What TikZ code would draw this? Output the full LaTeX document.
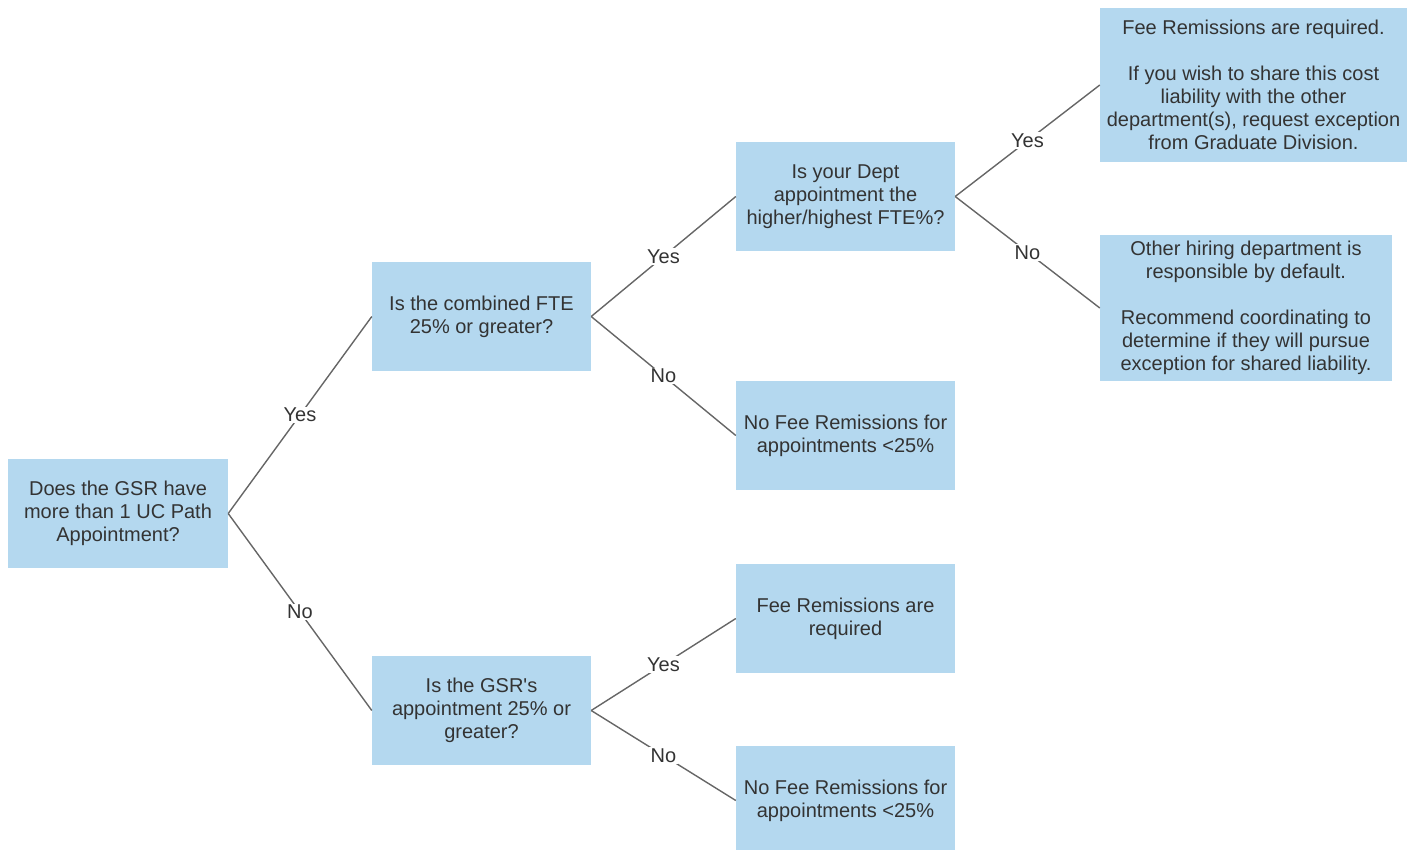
\documentclass[tikz,border=0pt]{standalone}
\usepackage{fontspec}
\setmainfont{Liberation Sans}
\definecolor{boxblue}{RGB}{180,216,239}
\definecolor{txt}{RGB}{51,51,51}
\definecolor{edge}{RGB}{102,102,102}
\begin{document}
\begin{tikzpicture}[x=1pt,y=-1pt,
  box/.style={fill=boxblue,draw=none,text=txt,align=center,inner sep=0pt,
    font=\fontsize{20}{23}\selectfont},
  conn/.style={draw=edge,line width=1.4pt},
  lbl/.style={fill=white,text=txt,inner sep=1.5pt,font=\fontsize{20}{23}\selectfont}]
\useasboundingbox (0,0) rectangle (1413,849);
\begin{scope}
\clip (0,0) rectangle (1413,849);
\node[box,minimum width=220pt,minimum height=109pt] (A) at (118,513.5)
  {Does the GSR have\\more than 1 UC Path\\Appointment?};
\node[box,minimum width=219pt,minimum height=109pt] (B) at (481.5,316.5)
  {Is the combined FTE\\25\% or greater?};
\node[box,minimum width=219pt,minimum height=109pt] (C) at (481.5,710.5)
  {Is the GSR\textquotesingle s\\appointment 25\% or\\greater?};
\node[box,minimum width=219pt,minimum height=109pt] (D) at (845.5,196.5)
  {Is your Dept\\appointment the\\higher/highest FTE\%?};
\node[box,minimum width=219pt,minimum height=109pt] (E) at (845.5,435.5)
  {No Fee Remissions for\\appointments <25\%};
\node[box,minimum width=219pt,minimum height=109pt] (F) at (845.5,618.5)
  {Fee Remissions are\\required};
\node[box,minimum width=219pt,minimum height=109pt] (G) at (845.5,800.5)
  {No Fee Remissions for\\appointments <25\%};
\node[box,minimum width=307pt,minimum height=154pt] (H) at (1253.5,85)
  {Fee Remissions are required.\\[23pt]If you wish to share this cost\\liability with the other\\department(s), request exception\\from Graduate Division.};
\node[box,minimum width=292pt,minimum height=146pt] (I) at (1246,308)
  {Other hiring department is\\responsible by default.\\[23pt]Recommend coordinating to\\determine if they will pursue\\exception for shared liability.};
\draw[conn] (A.east) -- node[lbl] (l1) {Yes} (B.west);
\draw[conn] (A.east) -- node[lbl] (l2) {No} (C.west);
\draw[conn] (B.east) -- node[lbl] (l3) {Yes} (D.west);
\draw[conn] (B.east) -- node[lbl] (l4) {No} (E.west);
\draw[conn] (C.east) -- node[lbl] (l5) {Yes} (F.west);
\draw[conn] (C.east) -- node[lbl] (l6) {No} (G.west);
\draw[conn] (D.east) -- node[lbl] (l7) {Yes} (H.west);
\draw[conn] (D.east) -- node[lbl] (l8) {No} (I.west);
\end{scope}
\end{tikzpicture}
\end{document}
